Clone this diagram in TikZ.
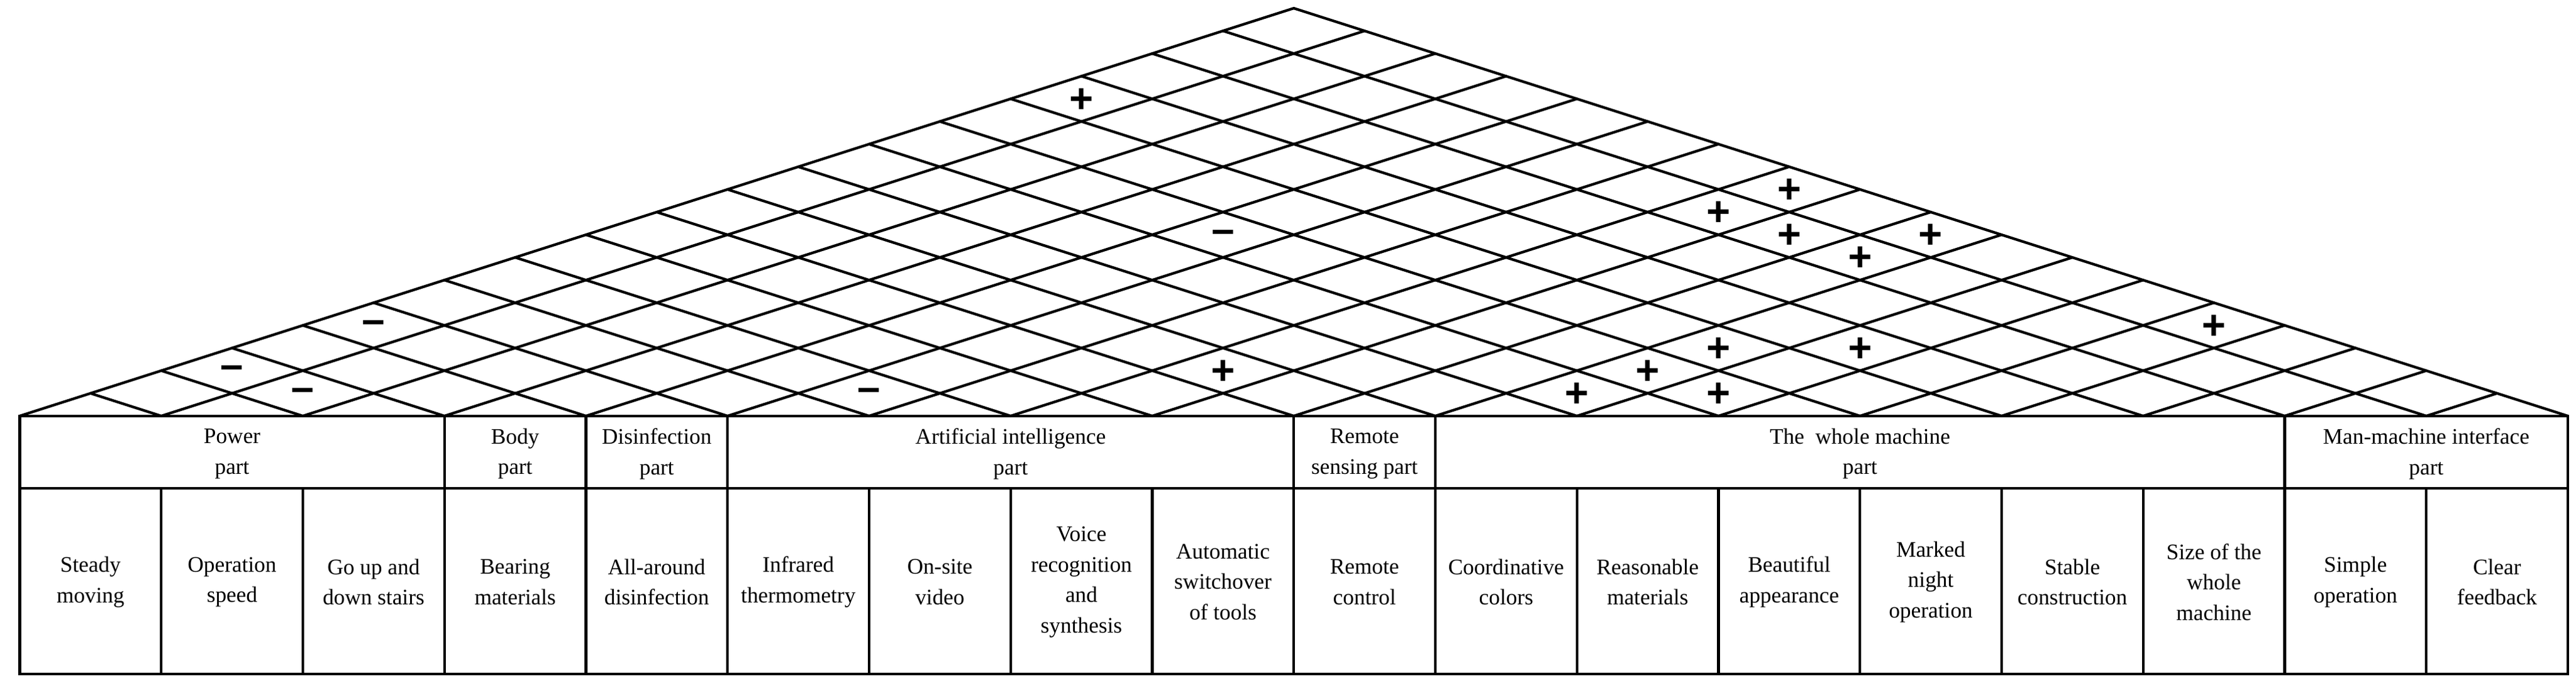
\documentclass[tikz,border=0pt]{standalone}
\usepackage{fontspec}
\setmainfont{Liberation Serif}
\newfontfamily\sgfont{Liberation Sans}
\begin{document}
\begin{tikzpicture}[x=1pt,y=1pt,
  ln/.style={line width=1.6pt,black},
  cell/.style={align=center,font=\fontsize{13.5}{18.5}\selectfont,inner sep=0pt},
  sg/.style={font=\fontsize{25}{25}\selectfont\sgfont\bfseries,inner sep=0pt}]
\useasboundingbox (0,0) rectangle (1568,-423);
\def\w{86.167}\def\xo{12}\def\s{0.3198}\def\base{-253}
% roof
\foreach \i in {0,...,18}{
  \pgfmathsetmacro\xi{\xo+\w*\i}
  \pgfmathsetmacro\xr{(\xi+\xo+18*\w)/2}
  \pgfmathsetmacro\yr{\base+\s*(\xo+18*\w-\xi)/2}
  \pgfmathsetmacro\xl{(\xi+\xo)/2}
  \pgfmathsetmacro\yl{\base+\s*(\xi-\xo)/2}
  \draw[ln,line cap=round] (\xl,\yl) -- (\xi,\base) -- (\xr,\yr);
}
% table
\draw[ln] (\xo,-253) rectangle (\xo+18*\w,-410);
\draw[ln] (\xo,-297) -- (\xo+18*\w,-297);
\foreach \i in {1,...,17}{\draw[ln] (\xo+\i*\w,-297) -- (\xo+\i*\w,-410);}
\foreach \i in {3,4,5,9,10,16}{\draw[ln] (\xo+\i*\w,-253) -- (\xo+\i*\w,-297);}
% headers
\foreach \a/\b/\t [count=\k] in {0/3/{Power\\part},3/4/{Body\\part},4/5/{Disinfection\\part},5/9/{Artificial intelligence\\part},9/10/{Remote\\sensing part},10/16/{The\ \ whole machine\\part},16/18/{Man-machine interface\\part}}{
  \node[cell] (h\k) at ({\xo+(\a+\b)/2*\w},-276) {\t};
}
% items
\foreach \t [count=\k from 0] in {{Steady\\moving},{Operation\\speed},{Go up and\\down stairs},{Bearing\\materials},{All-around\\disinfection},{Infrared\\thermometry},{On-site\\video},{Voice\\recognition\\and\\synthesis},{Automatic\\switchover\\of tools},{Remote\\control},{Coordinative\\colors},{Reasonable\\materials},{Beautiful\\appearance},{Marked\\night\\operation},{Stable\\construction},{Size of the\\whole\\machine},{Simple\\operation},{Clear\\feedback}}{
  \node[cell] (c\k) at ({\xo+(\k+0.5)*\w},-354) {\t};
}
% signs
\foreach \i/\j/\m [count=\k] in {0/14/+,4/12/\textendash,0/4/\textendash,0/2/\textendash,1/2/\textendash,5/6/\textendash,7/9/+,7/16/+,7/17/+,8/16/+,9/16/+,9/17/+,13/17/+,10/13/+,11/14/+,10/11/+,10/12/+,11/12/+}{
  \node[sg] (s\k) at ({\xo+\w*((\i+\j)/2+0.5)},{\base-1+\s*\w*(\j-\i)/2}) {\m};
}
\end{tikzpicture}
\end{document}
